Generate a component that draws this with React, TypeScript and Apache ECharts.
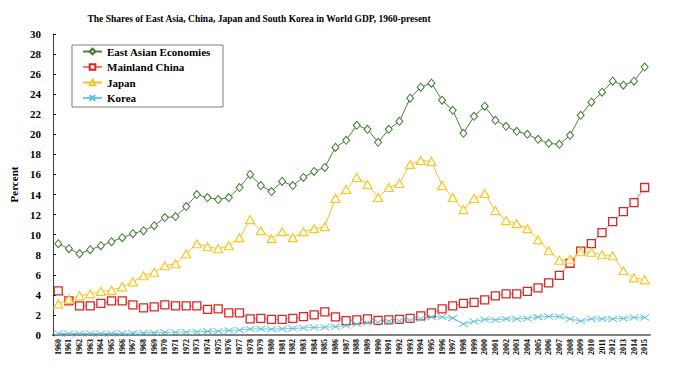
import React, { useEffect, useRef } from "react";
import * as echarts from "echarts";

const years: string[] = [];
for (let y = 1960; y <= 2015; y++) years.push(String(y));

const eastAsia = [
  9.1, 8.6, 8.1, 8.5, 8.9, 9.3, 9.7, 10.1, 10.4, 10.9,
  11.7, 11.8, 12.8, 14.0, 13.7, 13.5, 13.7, 14.7, 16.0, 14.9,
  14.3, 15.3, 14.9, 15.7, 16.3, 16.7, 18.7, 19.4, 20.9, 20.5,
  19.2, 20.5, 21.3, 23.6, 24.7, 25.1, 23.4, 22.4, 20.1, 21.8,
  22.8, 21.4, 20.8, 20.3, 20.0, 19.5, 19.1, 19.0, 19.9, 21.9,
  23.2, 24.2, 25.3, 24.9, 25.3, 26.7,
];
const china = [
  4.4, 3.4, 2.9, 2.9, 3.15, 3.4, 3.4, 3.0, 2.7, 2.8,
  3.0, 2.9, 2.9, 2.9, 2.55, 2.6, 2.2, 2.2, 1.6, 1.65,
  1.56, 1.56, 1.66, 1.83, 2.0, 2.3, 1.8, 1.43, 1.5, 1.6,
  1.46, 1.5, 1.56, 1.66, 1.9, 2.2, 2.6, 2.9, 3.16, 3.25,
  3.5, 3.9, 4.1, 4.1, 4.35, 4.7, 5.2, 5.95, 7.15, 8.35,
  9.1, 10.2, 11.3, 12.3, 13.2, 14.7,
];
const japan = [
  3.1, 3.55, 3.9, 4.1, 4.35, 4.45, 4.8, 5.3, 5.9, 6.25,
  6.9, 7.1, 8.1, 9.1, 8.8, 8.6, 8.9, 9.7, 11.5, 10.4,
  9.6, 10.3, 9.7, 10.3, 10.6, 10.8, 13.6, 14.5, 15.7, 15.0,
  13.7, 14.7, 15.1, 17.0, 17.4, 17.3, 14.9, 13.7, 12.5, 13.6,
  14.1, 12.4, 11.4, 11.1, 10.6, 9.5, 8.4, 7.45, 7.55, 8.3,
  8.25, 8.0, 7.9, 6.4, 5.7, 5.5,
];
const korea = [
  0.15, 0.15, 0.15, 0.15, 0.15, 0.15, 0.17, 0.2, 0.22, 0.25,
  0.27, 0.28, 0.3, 0.33, 0.36, 0.38, 0.45, 0.5, 0.6, 0.62,
  0.58, 0.62, 0.65, 0.7, 0.75, 0.78, 0.82, 0.95, 1.1, 1.25,
  1.3, 1.38, 1.42, 1.5, 1.62, 1.78, 1.8, 1.68, 1.1, 1.35,
  1.55, 1.5, 1.6, 1.6, 1.65, 1.78, 1.85, 1.85, 1.6, 1.4,
  1.6, 1.6, 1.6, 1.65, 1.75, 1.75,
];

const FONT = "'Liberation Serif', 'Times New Roman', serif";

export default function App() {
  const ref = useRef<HTMLDivElement>(null);
  useEffect(() => {
    if (!ref.current) return;
    const chart = echarts.init(ref.current, null, { renderer: "svg" });
    const mk = (
      name: string,
      data: number[],
      symbol: string,
      size: number | number[],
      markColor: string,
      lineColor: string,
      fill: string,
      bw: number
    ) => ({
      name,
      type: "line",
      data,
      symbol,
      symbolSize: size,
      showAllSymbol: true,
      silent: true,
      itemStyle: { color: fill, borderColor: markColor, borderWidth: bw },
      lineStyle: { color: lineColor, width: 1 },
      emphasis: { disabled: true },
    });
    chart.setOption({
      animation: false,
      backgroundColor: "#fff",
      tooltip: { show: false },
      title: {
        text: "The Shares of East Asia, China, Japan and South Korea in World GDP, 1960-present",
        left: 254,
        top: 9,
        textAlign: "center",
        textStyle: { fontFamily: FONT, fontSize: 9.5, fontWeight: "bold", color: "#000" },
      },
      graphic: [
        {
          type: "rect",
          shape: { x: 72, y: 45, width: 151, height: 62 },
          style: { fill: "#fff", stroke: "#808080", lineWidth: 1 },
          z: 0,
        },
      ],
      legend: {
        orient: "vertical",
        left: 82,
        top: 45,
        padding: 0,
        itemWidth: 19,
        itemHeight: 7,
        itemGap: 2.5,
        z: 10,
        selectedMode: false,
        textStyle: { fontFamily: FONT, fontSize: 11, fontWeight: "bold", color: "#000", lineHeight: 13 },
        data: ["East Asian Economies", "Mainland China", "Japan", "Korea"],
      },
      grid: { left: 38, right: 26, top: 34, bottom: 34, containLabel: false },
      xAxis: {
        type: "category",
        data: years,
        boundaryGap: true,
        axisLine: { lineStyle: { color: "#808080", width: 2 } },
        axisTick: { inside: true, length: 3, interval: 0, lineStyle: { color: "#000" } },
        axisLabel: {
          interval: 0,
          rotate: 90,
          margin: 4,
          fontFamily: FONT,
          fontSize: 8,
          fontWeight: "bold",
          color: "#000",
        },
        splitLine: { show: false },
      },
      yAxis: {
        type: "value",
        min: 0,
        max: 30,
        interval: 2,
        name: "Percent",
        nameLocation: "middle",
        nameGap: 33,
        nameRotate: 90,
        nameTextStyle: { fontFamily: FONT, fontSize: 11, fontWeight: "bold", color: "#000" },
        axisLine: { show: true, lineStyle: { color: "#404040", width: 1 } },
        axisTick: { show: true, inside: true, length: 3, lineStyle: { color: "#000" } },
        axisLabel: {
          margin: 12,
          fontFamily: FONT,
          fontSize: 11,
          fontWeight: "bold",
          color: "#000",
        },
        splitLine: { show: false },
      },
      series: [
        mk("East Asian Economies", eastAsia, "path://M5,0L10,5L5,10L0,5Z", [7, 8], "#3a7d2c", "#567d48", "#ffffff", 1),
        mk("Mainland China", china, "path://M0,0L10,0L10,10L0,10Z", 8, "#dd2424", "#f08070", "#ffffff", 1.3),
        mk("Japan", japan, "path://M5,0L10,9L0,9Z", [9, 8], "#f8c820", "#f0c040", "#ffffff", 1.2),
        mk("Korea", korea, "path://M0,0L10,7M10,0L0,7", [9, 6], "#58c4d8", "#70cce0", "#58c4d8", 1),
      ],
    });
    return () => chart.dispose();
  }, []);
  return <div ref={ref} style={{ width: 676, height: 369, margin: -8 }} />;
}
